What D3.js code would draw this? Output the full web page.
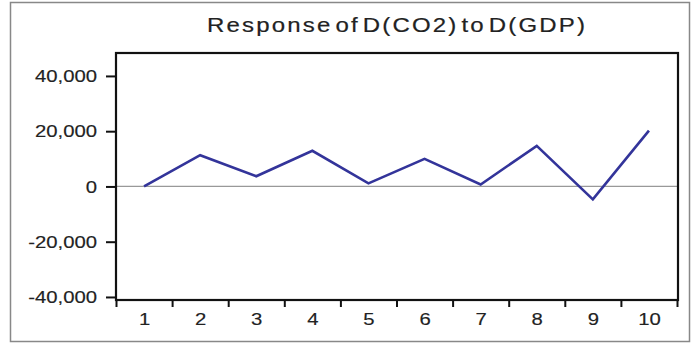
<!DOCTYPE html>
<html>
<head>
<meta charset="utf-8">
<script src="https://cdn.jsdelivr.net/npm/d3@7"></script>
<style>
  body { margin: 0; background: #fff; }
  svg text { font-family: "Liberation Sans", Arial, sans-serif; fill: #222; }
</style>
</head>
<body>
<div id="chart-area"></div>
<script>
const title = 'Response of D(CO2) to D(GDP)';
const periods = [1, 2, 3, 4, 5, 6, 7, 8, 9, 10];
const response = [0, 11300, 3700, 12900, 1100, 10000, 700, 14700, -4700, 20200];
const yTicks = [-40000, -20000, 0, 20000, 40000];

const chartSize = { width: 696, height: 343 };
const plot = { left: 116, right: 678, top: 53, bottom: 300 };
const stretch = 1.27;   // the source text is drawn wide

const svg = d3.select('#chart-area').append('svg')
  .attr('width', chartSize.width)
  .attr('height', chartSize.height);

// outer grey frame
svg.append('rect')
  .attr('x', 10.5).attr('y', 2.5)
  .attr('width', 679).attr('height', 339)
  .attr('fill', 'none')
  .attr('stroke', '#888')
  .attr('stroke-width', 1.5);

svg.append('text')
  .attr('transform', `translate(207,32) scale(1.2,1)`)
  .attr('font-size', 20)
  .attr('textLength', 378 / 1.2)
  .attr('lengthAdjust', 'spacing')
  .style('word-spacing', '-5px')
  .attr('fill', '#222')
  .attr('stroke', '#222').attr('stroke-width', 0.2)
  .text(title);

const x = d3.scaleLinear()
  .domain([0.5, periods.length + 0.5])
  .range([plot.left, plot.right - 1]);

const y = d3.scaleLinear()
  .domain([-41100, 48300])
  .range([plot.bottom, plot.top]);

// zero line
svg.append('line')
  .attr('x1', plot.left).attr('x2', plot.right)
  .attr('y1', y(0)).attr('y2', y(0))
  .attr('stroke', '#999')
  .attr('stroke-width', 1.2);

const fmt = d => d3.format(',')(d).replace('\u2212', '-');

const yAxis = d3.axisLeft(y)
  .tickValues(yTicks)
  .tickSize(10)
  .tickFormat(fmt);

const yG = svg.append('g')
  .attr('transform', `translate(${plot.left},0)`)
  .call(yAxis);

const xLabels = d3.axisBottom(x)
  .tickValues(periods)
  .tickSize(0)
  .tickFormat(d3.format('d'));

const xMarks = d3.axisBottom(x)
  .tickValues(d3.range(0.5, periods.length + 1, 1))
  .tickSize(7)
  .tickFormat('');

const xG = svg.append('g')
  .attr('transform', `translate(0,${plot.bottom})`)
  .call(xLabels);
svg.append('g')
  .attr('transform', `translate(0,${plot.bottom})`)
  .call(xMarks);

svg.selectAll('.domain').remove();
svg.selectAll('.tick line').attr('stroke', '#111').attr('stroke-width', 2);
svg.selectAll('.tick text')
  .attr('font-size', 16)
  .attr('fill', '#222')
  .attr('stroke', '#222').attr('stroke-width', 0.15);

yG.selectAll('.tick text')
  .attr('x', -19 / stretch)
  .attr('dy', '0.36em')
  .attr('transform', `scale(${stretch},1)`);

xG.selectAll('.tick text')
  .attr('y', 0)
  .attr('dy', 25)
  .attr('transform', `scale(${stretch},1)`)
  .attr('text-anchor', 'middle');

// plot frame
svg.append('rect')
  .attr('x', plot.left).attr('y', plot.top)
  .attr('width', plot.right - plot.left)
  .attr('height', plot.bottom - plot.top)
  .attr('fill', 'none')
  .attr('stroke', '#111')
  .attr('stroke-width', 2.2);

const line = d3.line()
  .x((d, i) => x(periods[i]))
  .y(d => y(d));

svg.append('path')
  .datum(response)
  .attr('d', line)
  .attr('fill', 'none')
  .attr('stroke', '#33349a')
  .attr('stroke-width', 2.6)
  .attr('stroke-linejoin', 'miter');
</script>
</body>
</html>
